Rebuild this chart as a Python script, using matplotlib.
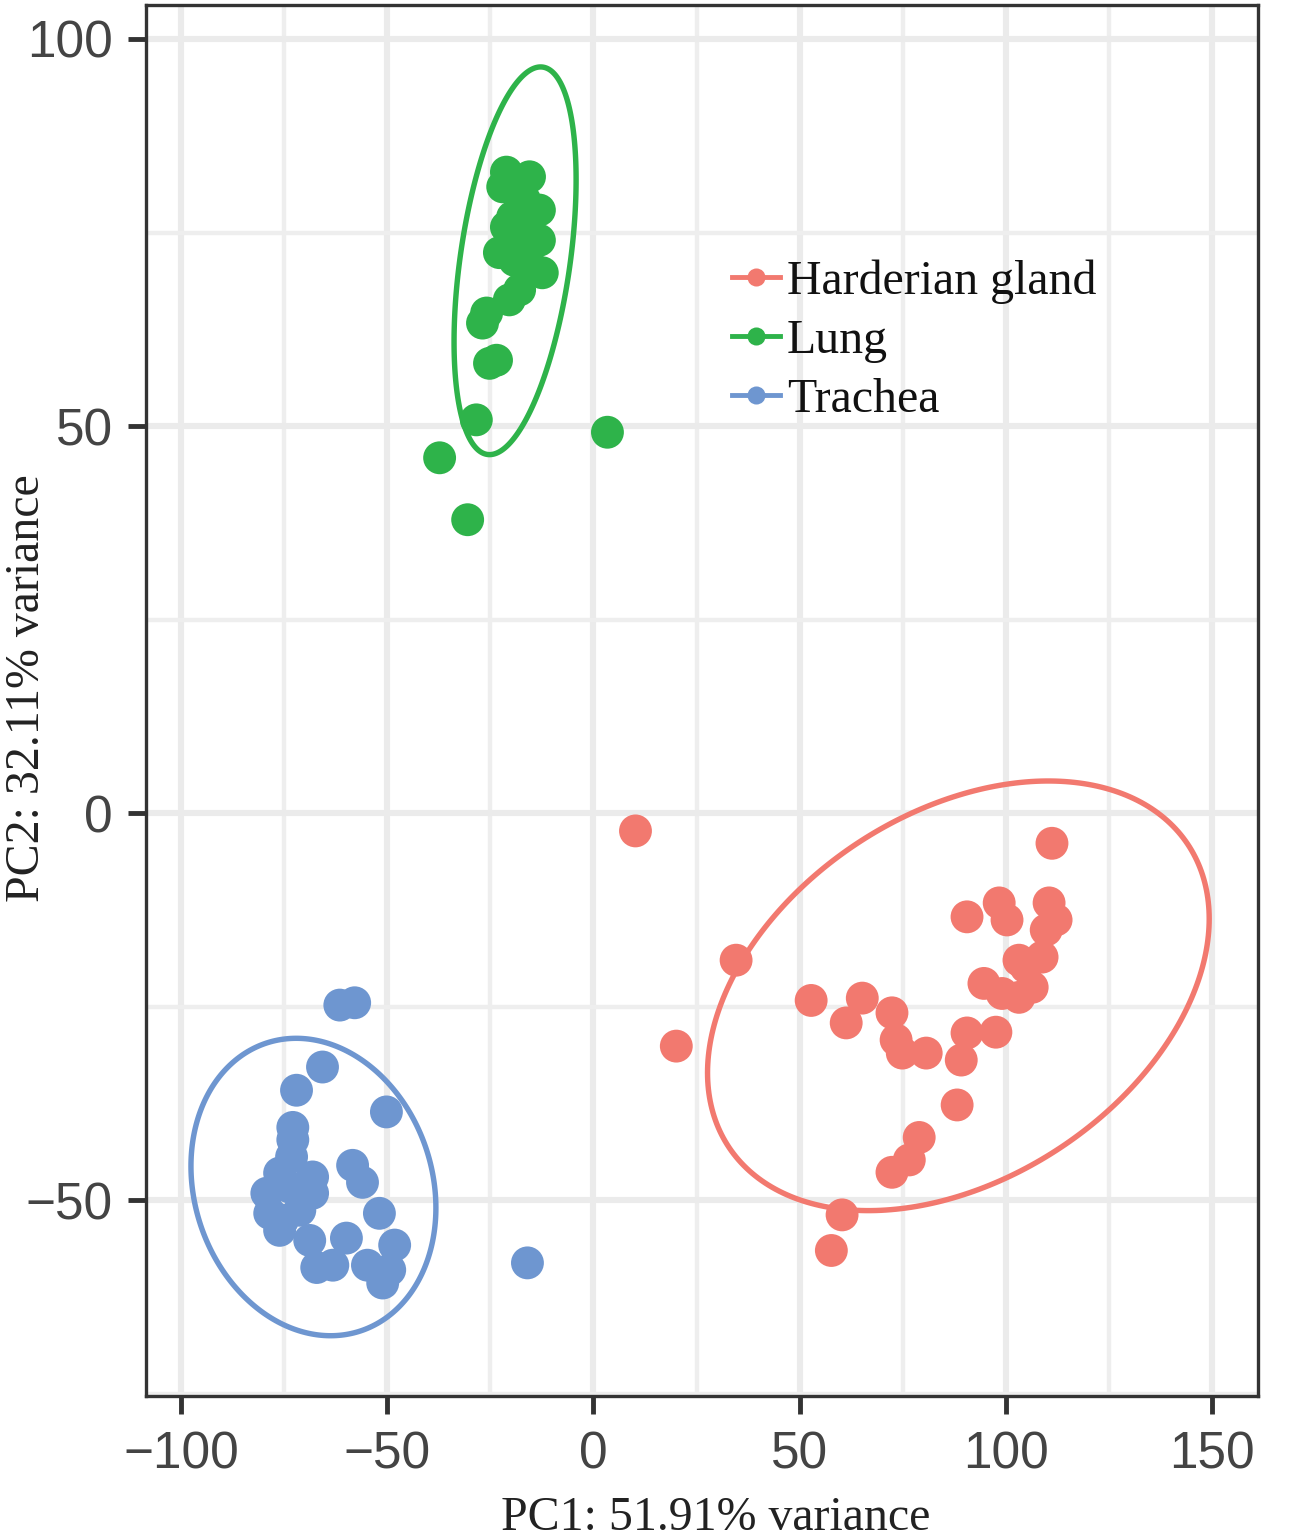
import numpy as np
import matplotlib
matplotlib.use("Agg")
import matplotlib.pyplot as plt
from matplotlib.lines import Line2D
from matplotlib.patches import Polygon

# PCA scores
harderian_x = [111.2, 90.6, 98.4, 100.3, 110.5, 112.2, 109.8, 108.8, 103.2, 104.9,
               94.7, 99.1, 103.2, 106.4, 34.6, 52.8, 65.2, 61.3, 72.4, 73.4,
               74.9, 80.7, 89.2, 90.6, 97.6, 88.2, 79.0, 76.6, 72.4, 60.3,
               57.7, 20.1, 10.2]
harderian_y = [-3.9, -13.4, -11.6, -13.8, -11.6, -13.8, -15.1, -18.6, -19.0, -19.9,
               -22.0, -23.3, -23.8, -22.5, -19.0, -24.2, -23.9, -27.1, -25.8, -29.3,
               -31.0, -31.0, -31.9, -28.4, -28.3, -37.7, -41.9, -44.8, -46.4, -51.9,
               -56.5, -30.1, -2.3]

lung_x = [-21.1, -15.5, -22.0, -16.7, -13.1, -19.6, -21.1, -15.5, -13.1, -22.8,
          -17.9, -19.1, -15.5, -12.4, -17.9, -20.4, -25.9, -26.9, -25.2, -23.5,
          -28.4, -37.3, -30.5, 3.4]
lung_y = [82.8, 82.2, 80.9, 79.2, 77.9, 77.0, 75.7, 75.2, 74.0, 72.4,
          72.7, 71.4, 70.8, 69.8, 67.6, 66.3, 64.6, 63.3, 58.1, 58.5,
          50.8, 45.9, 37.9, 49.2]

trachea_x = [-61.5, -57.9, -65.7, -72.0, -50.2, -72.9, -72.9, -73.2, -58.4, -56.0,
             -68.1, -76.1, -79.2, -73.7, -68.1, -78.5, -75.4, -71.2, -51.9, -76.1,
             -68.8, -59.9, -48.2, -67.1, -63.2, -54.8, -49.4, -51.1, -16.0]
trachea_y = [-24.8, -24.5, -32.8, -35.8, -38.6, -40.6, -42.2, -44.4, -45.5, -47.7,
             -47.0, -46.5, -49.1, -48.3, -49.1, -51.7, -52.6, -51.3, -51.7, -53.9,
             -55.2, -54.9, -55.8, -58.7, -58.4, -58.4, -59.0, -60.7, -58.1]

# 95% ellipses: centre and shape matrix (data units)
harderian_ell = ((88.5, -23.6), [[3700.0, 605.0], [605.0, 770.0]])
lung_ell = ((-19.0, 71.35), [[219.0, 155.0], [155.0, 627.0]])
trachea_ell = ((-67.9, -48.3), [[882.0, -80.0], [-80.0, 369.0]])

groups = ["Harderian gland", "Lung", "Trachea"]
colors = ["#F2796F", "#2EB34A", "#6E96D0"]


def ellipse_path(center, S, n=300):
    t = np.linspace(0, 2 * np.pi, n, endpoint=False)
    L = np.linalg.cholesky(np.array(S))
    pts = L @ np.vstack([np.cos(t), np.sin(t)])
    return np.column_stack([center[0] + pts[0], center[1] + pts[1]])


fig = plt.figure(figsize=(12.99, 15.39), dpi=100)
ax = fig.add_axes([0.1124, 0.0929, 0.856, 0.9039])

data = [(harderian_x, harderian_y, harderian_ell),
        (lung_x, lung_y, lung_ell),
        (trachea_x, trachea_y, trachea_ell)]

for (xs, ys, ell), col in zip(data, colors):
    ax.scatter(xs, ys, s=560, color=col, edgecolors="none", zorder=3)
    ax.add_patch(Polygon(ellipse_path(*ell), closed=True, fill=False,
                         edgecolor=col, lw=3.9, zorder=2))

ax.set_xlim(-108.5, 161.15)
ax.set_ylim(-75.3, 104.4)
ax.set_xticks([-100, -50, 0, 50, 100, 150])
ax.set_yticks([-50, 0, 50, 100])
ax.set_xticks([-75, -25, 25, 75, 125], minor=True)
ax.set_yticks([-75, -25, 25, 75], minor=True)

ax.grid(True, which="major", color="#EBEBEB", lw=4.4, zorder=0)
ax.grid(True, which="minor", color="#EEEEEE", lw=3.2, zorder=0)
ax.set_axisbelow(True)

for sp in ax.spines.values():
    sp.set_color("#333333")
    sp.set_linewidth(2.4)

ax.tick_params(axis="both", which="major", length=13, width=3.5, color="#333333",
               labelsize=37, labelcolor="#444444")
ax.tick_params(axis="x", which="major", pad=12)
ax.tick_params(axis="y", which="major", pad=11)
ax.tick_params(axis="both", which="minor", length=0)
for lab in ax.get_xticklabels() + ax.get_yticklabels():
    lab.set_family("Liberation Sans")

ax.set_xlabel("PC1: 51.91% variance", family="Liberation Serif", fontsize=34.5,
              color="#222222")
ax.set_ylabel("PC2: 32.11% variance", family="Liberation Serif", fontsize=34.5,
              color="#222222")
ax.xaxis.set_label_coords(0.5126, -0.072)
ax.yaxis.set_label_coords(-0.087, 0.509)

handles = [Line2D([0], [0], color=c, lw=3.5, marker="o", markersize=13,
                  markeredgecolor="none") for c in colors]
leg = ax.legend(handles, groups, loc="upper left", bbox_to_anchor=(0.527, 0.817),
                frameon=False, prop={"family": "Liberation Serif", "size": 34.5},
                handlelength=1.0, handletextpad=0.15, labelspacing=0.31,
                borderpad=0, borderaxespad=0)
for t in leg.get_texts():
    t.set_color("#111111")

fig.savefig("out.png", dpi=100)
